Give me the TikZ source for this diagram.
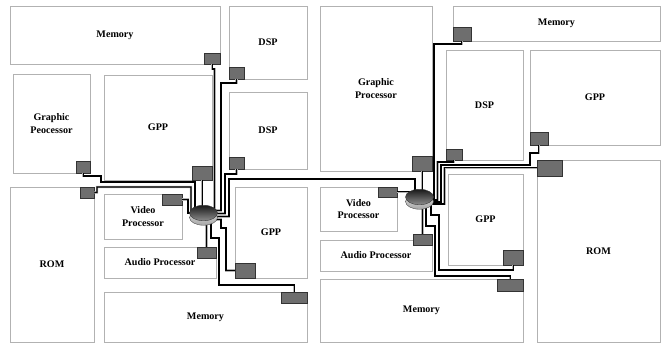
\documentclass[tikz,border=0pt]{standalone}
\usepackage{fontspec}
\setmainfont{Liberation Serif}
\usetikzlibrary{shapes.geometric}

\begin{document}
\begin{tikzpicture}
[
    x=0.4mm, y=-0.4mm,
    unit/.style={draw=gray!60, line width=0.8pt, fill=white, align=center, inner sep=0pt,
        font=\bfseries\fontsize{11.5}{14}\selectfont},
    port/.style={draw=black!80, line width=0.5pt, fill=black!57, inner sep=0pt},
    wire/.style={draw=black, line width=1.4pt, preaction={draw=gray!60, line width=2.6pt}},
    hubrim/.style={ellipse, draw=black!75, line width=0.4pt, top color=gray!25, bottom color=gray!70,
        minimum width=11.2mm, minimum height=6.2mm, inner sep=0pt, yshift=-1.8mm},
    hubtop/.style={ellipse, draw=black!80, line width=0.4pt, top color=black!90, bottom color=black!45,
        minimum width=11.2mm, minimum height=6.2mm, inner sep=0pt}
]
    \useasboundingbox (0,0) rectangle (662,343);

    % left half
    \node[unit, minimum width=84mm, minimum height=23.2mm] (memTL) at (115,35) {Memory};
    \node[unit, minimum width=31.2mm, minimum height=29.2mm] (dspTL) at (268,42.5) {DSP};
    \node[unit, minimum width=31.2mm, minimum height=30.8mm] (dspML) at (268,130.5) {DSP};
    \node[unit, minimum width=30.8mm, minimum height=39.6mm] (gpL) at (51.5,123.5) {Graphic\\Peocessor};
    \node[unit, minimum width=43.2mm, minimum height=42mm] (gppTL) at (158,127.5) {GPP};
    \node[unit, minimum width=33.6mm, minimum height=62mm] (romL) at (52,264.5) {ROM};
    \node[unit, minimum width=31.2mm, minimum height=18mm] (vidL) at (143,216.5) {Video\\Processor};
    \node[unit, minimum width=44.8mm, minimum height=12.4mm] (audL) at (160,262.5) {Audio Processor};
    \node[unit, minimum width=28.8mm, minimum height=36.4mm] (gppBL) at (271,232.5) {GPP};
    \node[unit, minimum width=81.2mm, minimum height=20mm] (memBL) at (205.5,317) {Memory};

    % right half
    \node[unit, minimum width=44.8mm, minimum height=66mm] (gpR) at (376,88.5) {Graphic\\Processor};
    \node[unit, minimum width=82.8mm, minimum height=14mm] (memTR) at (556.5,23.5) {Memory};
    \node[unit, minimum width=30.8mm, minimum height=44mm] (dspR) at (484.5,105) {DSP};
    \node[unit, minimum width=52mm, minimum height=38mm] (gppTR) at (595,97.5) {GPP};
    \node[unit, minimum width=49.2mm, minimum height=72.8mm] (romR) at (598.5,251) {ROM};
    \node[unit, minimum width=30.8mm, minimum height=17.6mm] (vidR) at (358.5,209) {Video\\Processor};
    \node[unit, minimum width=44.8mm, minimum height=12.4mm] (audR) at (376,255.5) {Audio Processor};
    \node[unit, minimum width=30mm, minimum height=36.4mm] (gppBR) at (485.5,219.5) {GPP};
    \node[unit, minimum width=81.2mm, minimum height=25.2mm] (memBR) at (421.5,310.5) {Memory};

    % ports
    \node[port, minimum width=6.4mm, minimum height=4.4mm, anchor=south east] (pMemTL) at (memTL.south east) {};
    \node[port, minimum width=6mm, minimum height=4.8mm, anchor=south west] (pDspTL) at (dspTL.south west) {};
    \node[port, minimum width=6mm, minimum height=4.8mm, anchor=south west] (pDspML) at (dspML.south west) {};
    \node[port, minimum width=5.6mm, minimum height=4.8mm, anchor=south east] (pGpL) at (gpL.south east) {};
    \node[port, minimum width=8mm, minimum height=5.6mm, anchor=south east] (pGppTL) at (gppTL.south east) {};
    \node[port, minimum width=5.6mm, minimum height=4.4mm, anchor=north east] (pRomL) at (romL.north east) {};
    \node[port, minimum width=8mm, minimum height=4.4mm, anchor=north east] (pVidL) at (vidL.north east) {};
    \node[port, minimum width=7.6mm, minimum height=4.4mm, anchor=north east] (pAudL) at (audL.north east) {};
    \node[port, minimum width=8mm, minimum height=6mm, anchor=south west] (pGppBL) at (gppBL.south west) {};
    \node[port, minimum width=10.4mm, minimum height=4.4mm, anchor=north east] (pMemBL) at (memBL.north east) {};

    \node[port, minimum width=7.2mm, minimum height=5.6mm, anchor=south west] (pMemTR) at (memTR.south west) {};
    \node[port, minimum width=6.4mm, minimum height=4.4mm, anchor=south west] (pDspR) at (dspR.south west) {};
    \node[port, minimum width=7.2mm, minimum height=5.2mm, anchor=south west] (pGppTR) at (gppTR.south west) {};
    \node[port, minimum width=10mm, minimum height=6.4mm, anchor=north west] (pRomR) at (romR.north west) {};
    \node[port, minimum width=8mm, minimum height=6mm, anchor=south east] (pGpR) at (gpR.south east) {};
    \node[port, minimum width=7.6mm, minimum height=4mm, anchor=north east] (pVidR) at (vidR.north east) {};
    \node[port, minimum width=7.6mm, minimum height=4.4mm, anchor=east] (pAudR) at (audR.north east) {};
    \node[port, minimum width=8mm, minimum height=6mm, anchor=south east] (pGppBR) at (gppBR.south east) {};
    \node[port, minimum width=10.4mm, minimum height=4.8mm, anchor=north east] (pMemBR) at (memBR.north east) {};

    \coordinate (hubL) at (203.5,213);
    \coordinate (hubR) at (419.5,197);

    % wires to the left switch
    \draw[wire] (pMemTL.south) |- (214.5,69) |- (hubL);
    \draw[wire] (pDspTL.south) |- (221,83) -- (221,210.5) -| (hubL);
    \draw[wire] (pDspML.south) |- (225,174) -- (225,213.5) -| (hubL);
    \draw[wire] (pGpL.south) |- (101,176) |- (195,182) |- (hubL);
    \draw[wire] (pRomL.east) -- (97,192.5) |- (191,187) |- (hubL);
    \draw[wire] (pGppTL.south) |- (hubL);
    \draw[wire] (pVidL.east) -| (188,213) -- (hubL);
    \draw[wire] (pAudL.north) |- (hubL);
    \draw[wire] (hubL) |- (221,219.5) |- (226,228) |- (pGppBL.west);
    \draw[wire] (hubL) -| (211,238) -| (219,285) -| (pMemBL.north);

    % link between the switches
    \draw[wire] (hubL) |- (229,216.5) |- (415,179) |- (hubR);

    % wires to the right switch
    \draw[wire] (pMemTR.south) |- (434,44) -- (434,198) -| (hubR);
    \draw[wire] (pDspR.south) |- (437.5,162) -- (437.5,200) -| (hubR);
    \draw[wire] (pGppTR.south) |- (530,153) |- (441,165) -- (441,202) -| (hubR);
    \draw[wire] (pRomR.west) -| (444.5,204) -| (hubR);
    \draw[wire] (pGpR.south) |- (hubR);
    \draw[wire] (pVidR.east) -| (hubR);
    \draw[wire] (pAudR.north) |- (hubR);
    \draw[wire] (hubR) -| (431,215) -| (439,270) -| (pGppBR.south);
    \draw[wire] (hubR) -| (426,226) -| (435,276) -| (pMemBR.north);

    % switches
    \node[hubrim] (swLrim) at (hubL) {};
    \node[hubtop] (swL) at (hubL) {};
    \node[hubrim] (swRrim) at (hubR) {};
    \node[hubtop] (swR) at (hubR) {};
\end{tikzpicture}
\end{document}
